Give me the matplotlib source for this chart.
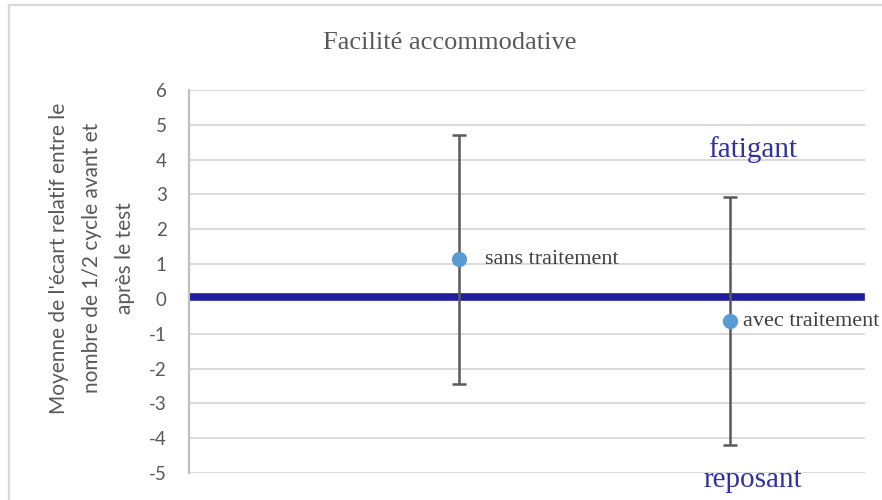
import matplotlib
matplotlib.use("Agg")
import matplotlib.pyplot as plt
from matplotlib.lines import Line2D

# data
groups = ["sans traitement", "avec traitement"]
x_pos = [2, 4]
means = [1.14, -0.645]
errs = [3.58, 3.56]
baseline_y = 0.05
y_ticks = list(range(-5, 7))

grey = "#595959"
grid_c = "#d9d9d9"
dark_blue = "#1f1f9e"
text_blue = "#3030aa"
point_c = "#5b9bd5"

plt.rcParams["axes.unicode_minus"] = False

fig = plt.figure(figsize=(8.82, 5), dpi=100)
ax = fig.add_axes([189/882, 1-473/500, 676/882, 383/500])

ax.set_xlim(0, 5)
ax.set_ylim(-5, 6)
ax.set_yticks(y_ticks)
ax.set_xticks([])
ax.yaxis.grid(True, color=grid_c, lw=1.4)
ax.set_axisbelow(True)
for s in ["top", "right", "bottom"]:
    ax.spines[s].set_visible(False)
ax.spines["left"].set_color("#bfbfbf")
ax.spines["left"].set_linewidth(1.6)
ax.tick_params(axis="y", length=0, pad=16, labelcolor=grey, labelsize=13.5)
for lab in ax.get_yticklabels():
    lab.set_family("Lato")

# thick reference line
ax.axhline(baseline_y, xmin=0.004, xmax=0.994, color=dark_blue, lw=5.5, zorder=2)

ax.errorbar(x_pos, means, yerr=errs, fmt="o", color=point_c, ms=10,
            ecolor=grey, elinewidth=1.8, capsize=5, capthick=1.8, zorder=3)
# label offsets differ a bit between the two points in the original
for xp, m, g, dx in zip(x_pos, means, groups, [0.19, 0.1]):
    ax.text(xp + dx, m, g, family="Liberation Serif", fontsize=16,
            color="#404040", va="center", ha="left", clip_on=False)

ax.text(4.17, 4.3, "fatigant", family="Liberation Serif", fontsize=21,
        color=text_blue, ha="center", va="center", clip_on=False)
ax.text(4.17, -5.2, "reposant", family="Liberation Serif", fontsize=21,
        color=text_blue, ha="center", va="center", clip_on=False)

fig.text(450/882, 1-43/500, "Facilité accommodative", family="Liberation Serif",
         fontsize=19, color=grey, ha="center", va="center")
fig.text(92/882, 1-258/500,
         "Moyenne de l'écart relatif entre le\nnombre de 1/2 cycle avant et\naprès le test",
         family="Lato", fontsize=15, color=grey, rotation=90,
         ha="center", va="center", linespacing=1.8, multialignment="center")

# chart frame (left and top edges visible)
fig.add_artist(Line2D([9/882, 9/882], [0, 1-5/500], color=grid_c, lw=1.6))
fig.add_artist(Line2D([9/882, 1], [1-5/500, 1-5/500], color=grid_c, lw=1.6))

fig.savefig("out.png", dpi=100)
